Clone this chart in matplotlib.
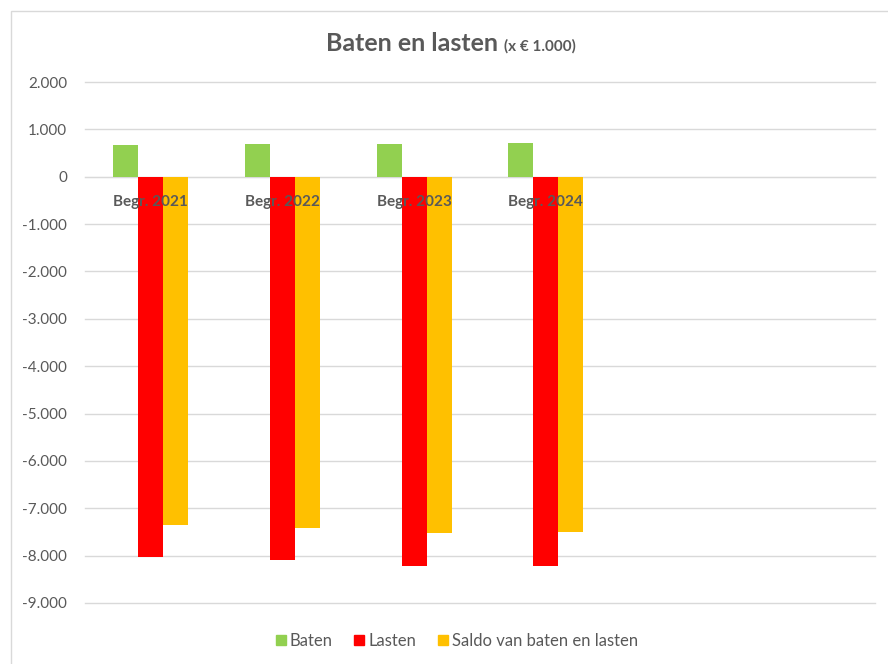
import matplotlib.pyplot as plt
import matplotlib.patches as mpatches
from matplotlib.ticker import FuncFormatter
import numpy as np

# data (x 1.000 euro)
categories = ['Begr. 2021', 'Begr. 2022', 'Begr. 2023', 'Begr. 2024', '', '']
baten = [676, 682, 697, 703]
lasten = [-8035, -8100, -8210, -8210]
saldo = [-7359, -7418, -7513, -7507]
series_names = ['Baten', 'Lasten', 'Saldo van baten en lasten']
colors = ['#92D050', '#FF0000', '#FFC000']
yticks = list(range(-9000, 2001, 1000))

text_color = '#595959'
grid_color = '#D9D9D9'
plt.rcParams['font.family'] = ['Lato', 'DejaVu Sans']

W, H = 888, 664
fig = plt.figure(figsize=(W / 100, H / 100), dpi=100)
ax = fig.add_axes([85 / W, 1 - 603 / H, 790 / W, 521 / H])

# chart border (cut off at right and bottom)
fig.patches.append(mpatches.Rectangle((10.5 / W, -0.1), 1.2, 1 - 10.5 / H + 0.1,
                                      transform=fig.transFigure, fill=False,
                                      edgecolor=grid_color, linewidth=1))

x = np.arange(len(baten))
bw = 0.19
for i, (vals, name, col) in enumerate(zip([baten, lasten, saldo], series_names, colors)):
    ax.bar(x + (i - 1) * bw, vals, width=bw, color=col, label=name, zorder=2)

ax.set_xlim(-0.5, len(categories) - 0.5)
ax.set_ylim(-9000, 2000)
ax.set_yticks(yticks)
ax.yaxis.set_major_formatter(FuncFormatter(lambda v, p: f"{int(v):,}".replace(',', '.')))

ax.set_axisbelow(True)
ax.yaxis.grid(True, color=grid_color, linewidth=1)
for gl in ax.yaxis.get_gridlines():
    gl.set_clip_on(False)
ax.xaxis.set_zorder(3)

for s in ['top', 'right', 'left']:
    ax.spines[s].set_visible(False)
ax.spines['bottom'].set_position(('data', 0))
ax.spines['bottom'].set_color(grid_color)
ax.spines['bottom'].set_zorder(1)

ax.set_xticks(range(len(categories)))
ax.set_xticklabels(categories, fontsize=11, fontweight='bold', color=text_color)
ax.tick_params(axis='x', length=0, pad=13)
ax.tick_params(axis='y', length=0, pad=13, labelsize=11, labelcolor=text_color)

# title with smaller unit text
fig.text(498 / W, 1 - 51 / H, 'Baten en lasten', ha='right', va='baseline',
         fontsize=18, fontweight='bold', color=text_color)
fig.text(504 / W, 1 - 51 / H, '(x € 1.000)', ha='left', va='baseline',
         fontsize=11, fontweight='bold', color=text_color)

handles = [mpatches.Patch(color=c) for c in colors]
fig.legend(handles, series_names, loc='center', bbox_to_anchor=(457 / W, 1 - 641 / H),
           ncol=3, frameon=False, fontsize=12, labelcolor=text_color,
           handlelength=0.6, handleheight=0.6, handletextpad=0.25, columnspacing=1.3)

fig.savefig('out.png', dpi=100)
